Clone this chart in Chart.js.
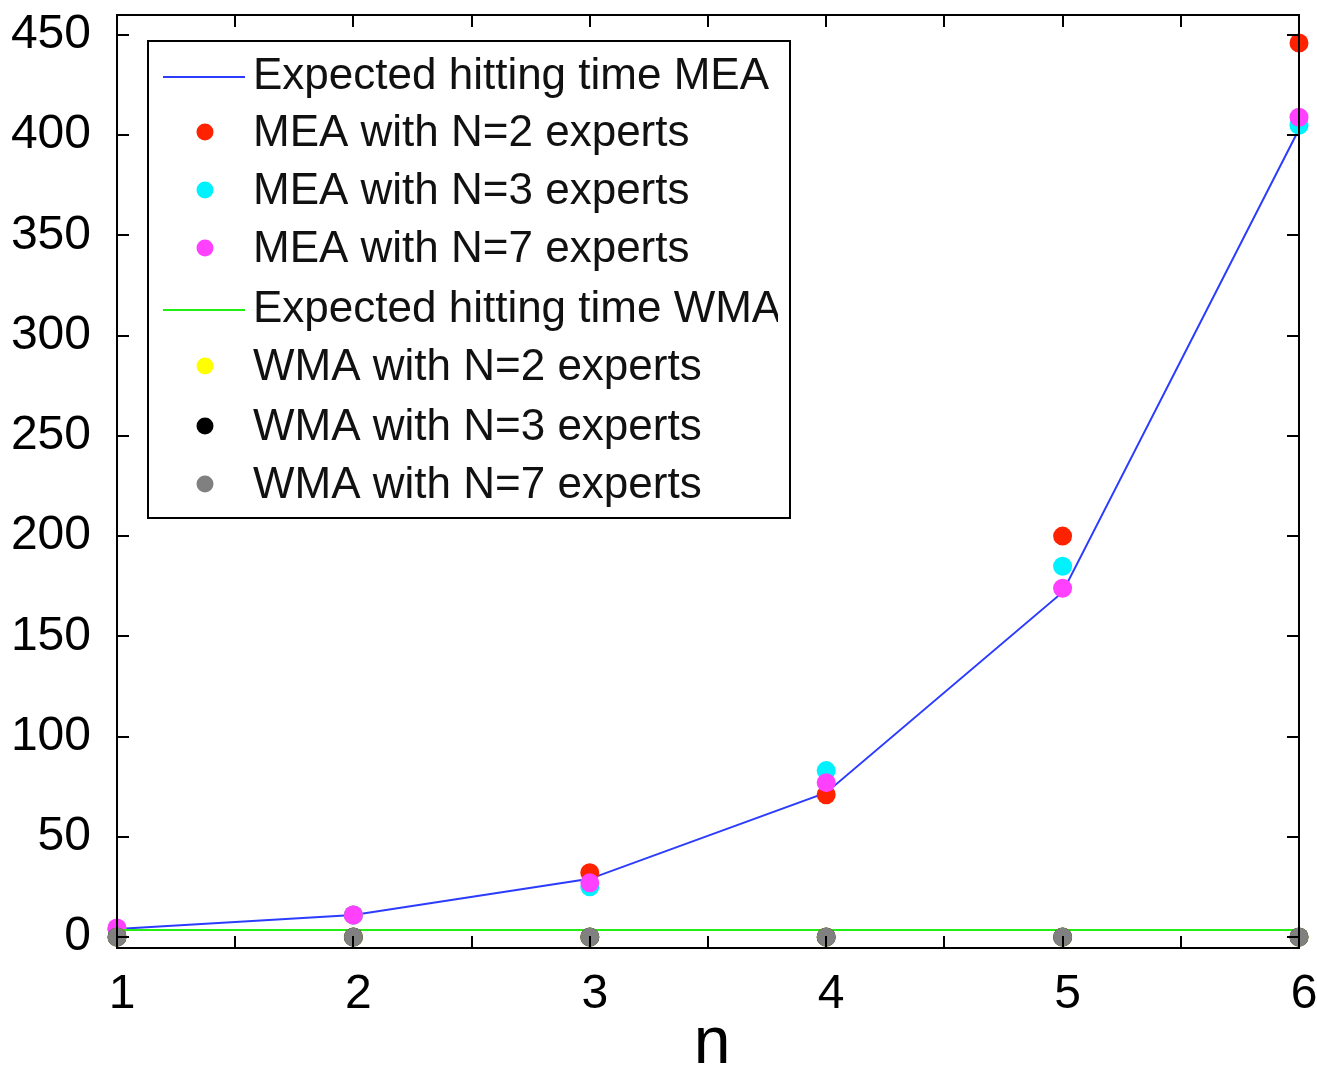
<!DOCTYPE html>
<html>
<head>
<meta charset="utf-8">
<script src="https://cdn.jsdelivr.net/npm/chart.js@4.4.0/dist/chart.umd.min.js"></script>
<style>
  html, body { margin: 0; padding: 0; background: #fff; }
  #wrap { width: 1317px; height: 1067px; }
</style>
</head>
<body>
<div id="wrap"><canvas id="hitChart" width="1317" height="1067"></canvas></div>
<script>
(function () {
    'use strict';

    // values
    const nValues = [1, 2, 3, 4, 5, 6];
    const meaExpected = [4, 11, 29, 72, 172, 403];
    const meaN2 = [4, 11, 32, 71, 200, 446];
    const meaN3 = [4, 11, 25, 83, 185, 405];
    const meaN7 = [4.5, 11, 27, 77, 174, 409];
    const wmaExpected = [3.5, 3.5, 3.5, 3.5, 3.5, 3.5];
    const wmaN2 = [0, 0, 0, 0, 0, 0];
    const wmaN3 = [0, 0, 0, 0, 0, 0];
    const wmaN7 = [0, 0, 0, 0, 0, 0];

    const xTicks = [1, 1.5, 2, 2.5, 3, 3.5, 4, 4.5, 5, 5.5, 6];
    const yTicks = [0, 50, 100, 150, 200, 250, 300, 350, 400, 450];

    const FONT = "'Liberation Sans', Arial, sans-serif";

    const pts = arr => arr.map((v, i) => ({ x: nValues[i], y: v }));

    function lineSet(label, data, color) {
        return { label, data: pts(data), borderColor: color, backgroundColor: color,
            borderWidth: 2, pointRadius: 0, showLine: true, type: "line", fill: false, tension: 0 };
    }
    function dotSet(label, data, color) {
        return { label, data: pts(data), borderColor: color, backgroundColor: color,
            pointRadius: 9.5, pointBorderWidth: 0, showLine: false, type: "line" };
    }

    const datasets = [
        lineSet("Expected hitting time MEA", meaExpected, "#2b3cff"),
        dotSet("MEA with N=2 experts", meaN2, "#ff2200"),
        dotSet("MEA with N=3 experts", meaN3, "#00f2ff"),
        dotSet("MEA with N=7 experts", meaN7, "#ff40ff"),
        lineSet("Expected hitting time WMA", wmaExpected, "#22ee11"),
        dotSet("WMA with N=2 experts", wmaN2, "#ffff00"),
        dotSet("WMA with N=3 experts", wmaN3, "#000000"),
        dotSet("WMA with N=7 experts", wmaN7, "#808080")
    ];
    // later series on top, like the plotting order
    datasets.forEach((d, i) => { d.order = -i; d.clip = false; });

    // box, inward ticks, legend, axis title
    const framePlugin = {
        id: "frame",
        afterDraw(chart) {
            const { ctx, chartArea: a, scales } = chart;
            const tl = 12;
            ctx.save();
            ctx.strokeStyle = "#000";
            ctx.lineWidth = 2;
            ctx.beginPath();
            xTicks.forEach(v => {
                const px = Math.round(scales.x.getPixelForValue(v));
                ctx.moveTo(px, a.bottom); ctx.lineTo(px, a.bottom - tl);
                ctx.moveTo(px, a.top); ctx.lineTo(px, a.top + tl);
            });
            yTicks.forEach(v => {
                const py = Math.round(scales.y.getPixelForValue(v));
                ctx.moveTo(a.left, py); ctx.lineTo(a.left + tl, py);
                ctx.moveTo(a.right, py); ctx.lineTo(a.right - tl, py);
            });
            ctx.stroke();
            ctx.strokeRect(a.left, a.top, a.right - a.left, a.bottom - a.top);

            // legend
            const bx = 148, by = 41, bw = 642, bh = 477;
            ctx.fillStyle = "#fff";
            ctx.fillRect(bx, by, bw, bh);
            ctx.strokeRect(bx, by, bw, bh);
            ctx.save();
            ctx.beginPath();
            ctx.rect(bx, by, bw - 12, bh);
            ctx.clip();
            const rowY = [77, 134, 192, 250, 310, 368, 428, 486];
            ctx.font = "44px " + FONT;
            ctx.textBaseline = "middle";
            datasets.forEach((d, i) => {
                const y = rowY[i];
                if (d.showLine && d.pointRadius === 0) {
                    ctx.strokeStyle = d.borderColor;
                    ctx.lineWidth = 2;
                    ctx.beginPath();
                    ctx.moveTo(163, y); ctx.lineTo(245, y);
                    ctx.stroke();
                } else {
                    ctx.fillStyle = d.backgroundColor;
                    ctx.beginPath();
                    ctx.arc(205, y - 2, 8.5, 0, Math.PI * 2);
                    ctx.fill();
                }
                ctx.fillStyle = "#111";
                ctx.fillText(d.label, 253, y);
            });
            ctx.restore();

            // x axis title
            ctx.fillStyle = "#000";
            ctx.font = "66px " + FONT;
            ctx.textAlign = "center";
            ctx.textBaseline = "alphabetic";
            ctx.fillText("n", 712, 1063);
            ctx.restore();
        }
    };

    new Chart(document.getElementById("hitChart"), {
        type: "scatter",
        data: { datasets },
        options: {
            responsive: false,
            animation: false,
            layout: { padding: { top: 15, right: 18, left: 0, bottom: 0 } },
            plugins: { legend: { display: false }, tooltip: { enabled: false } },
            scales: {
                x: {
                    type: "linear", min: 1, max: 6,
                    grid: { display: false }, border: { display: false },
                    afterBuildTicks: s => { s.ticks = xTicks.map(v => ({ value: v })); },
                    afterFit: s => { s.height = 119; s.paddingLeft = 0; s.paddingRight = 0; },
                    ticks: {
                        color: "#000", padding: 10, maxRotation: 0, autoSkip: false,
                        labelOffset: 5,
                        font: { family: FONT, size: 48 },
                        callback: v => Number.isInteger(v) ? String(v) : ""
                    }
                },
                y: {
                    type: "linear", min: -5.5, max: 460,
                    grid: { display: false }, border: { display: false },
                    afterBuildTicks: s => { s.ticks = yTicks.map(v => ({ value: v })); },
                    afterFit: s => { s.width = 117; s.paddingTop = 0; s.paddingBottom = 0; },
                    ticks: {
                        color: "#000", padding: 18,
                        font: { family: FONT, size: 48 }
                    }
                }
            }
        },
        plugins: [framePlugin]
    });
})();
</script>
</body>
</html>
